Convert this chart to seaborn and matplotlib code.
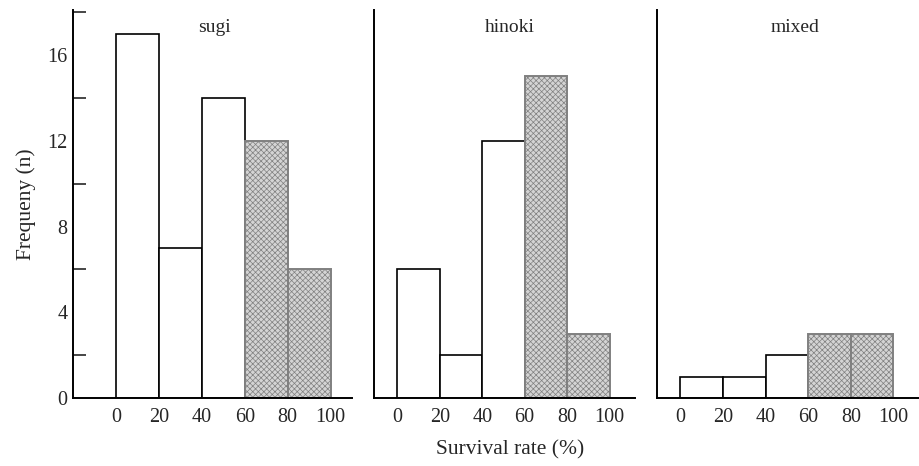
import seaborn as sns
import matplotlib.pyplot as plt
import numpy as np

# bin edges of survival rate (%) and counts per panel
bin_edges = [0, 20, 40, 60, 80, 100]
bin_centers = [10, 30, 50, 70, 90]
sugi = [17, 7, 14, 12, 6]
hinoki = [6, 2, 12, 15, 3]
mixed = [1, 1, 2, 3, 3]
panels = ['sugi', 'hinoki', 'mixed']
counts = {'sugi': sugi, 'hinoki': hinoki, 'mixed': mixed}
title_x = {'sugi': 46, 'hinoki': 53, 'mixed': 54}

sns.set_style('white')
plt.rcParams['font.family'] = ['Liberation Serif', 'DejaVu Serif']
plt.rcParams['hatch.color'] = '#a8a8a8'
plt.rcParams['hatch.linewidth'] = 0.5

fig = plt.figure(figsize=(9.19, 4.66), dpi=100)
boxes = [
    [73 / 919, 68 / 466, 279 / 919, 388 / 466],
    [374 / 919, 68 / 466, 261 / 919, 388 / 466],
    [657 / 919, 68 / 466, 262 / 919, 388 / 466],
]
xlims = [(-20, 110), (-11, 112), (-11, 112)]

for i, name in enumerate(panels):
    ax = fig.add_axes(boxes[i])
    vals = np.array(counts[name])
    low = np.array(bin_centers) < 60
    sns.histplot(x=np.array(bin_centers)[low], weights=vals[low], bins=bin_edges,
                 color='white', edgecolor='black', linewidth=1.2, alpha=1, ax=ax)
    sns.histplot(x=np.array(bin_centers)[~low], weights=vals[~low], bins=bin_edges,
                 color='#d4d4d4', edgecolor='#808080', linewidth=1.4, alpha=1,
                 hatch='xxxxxx', ax=ax)
    ax.set_xlim(*xlims[i])
    ax.set_ylim(0, 18.1)
    ax.set_xticks(bin_edges)
    ax.set_xticklabels([str(b) for b in bin_edges], fontsize=14.5)
    ax.tick_params(axis='x', length=0, pad=7)
    for s in ['top', 'right']:
        ax.spines[s].set_visible(False)
    for s in ['left', 'bottom']:
        ax.spines[s].set_linewidth(1.4)
        ax.spines[s].set_color('black')
    ax.set_xlabel('')
    ax.set_ylabel('')
    ax.text(title_x[name], 17.3, name, ha='center', va='center', fontsize=14)
    if i == 0:
        ax.set_yticks([0, 4, 8, 12, 16])
        ax.set_yticks([2, 6, 10, 14, 18], minor=True)
        ax.set_yticklabels(['0', '4', '8', '12', '16'], fontsize=14.5)
        ax.tick_params(axis='y', which='major', direction='in', length=15, width=1.2, pad=4)
        ax.tick_params(axis='y', which='minor', direction='in', length=9, width=1.2, left=True)
        ax.set_ylabel('Frequeny (n)', fontsize=15.5, labelpad=8)
    else:
        ax.set_yticks([])

fig.text(510 / 919, 1 - 450 / 466, 'Survival rate (%)', ha='center', va='center', fontsize=15.5)

plt.savefig('out.png', dpi=100)
